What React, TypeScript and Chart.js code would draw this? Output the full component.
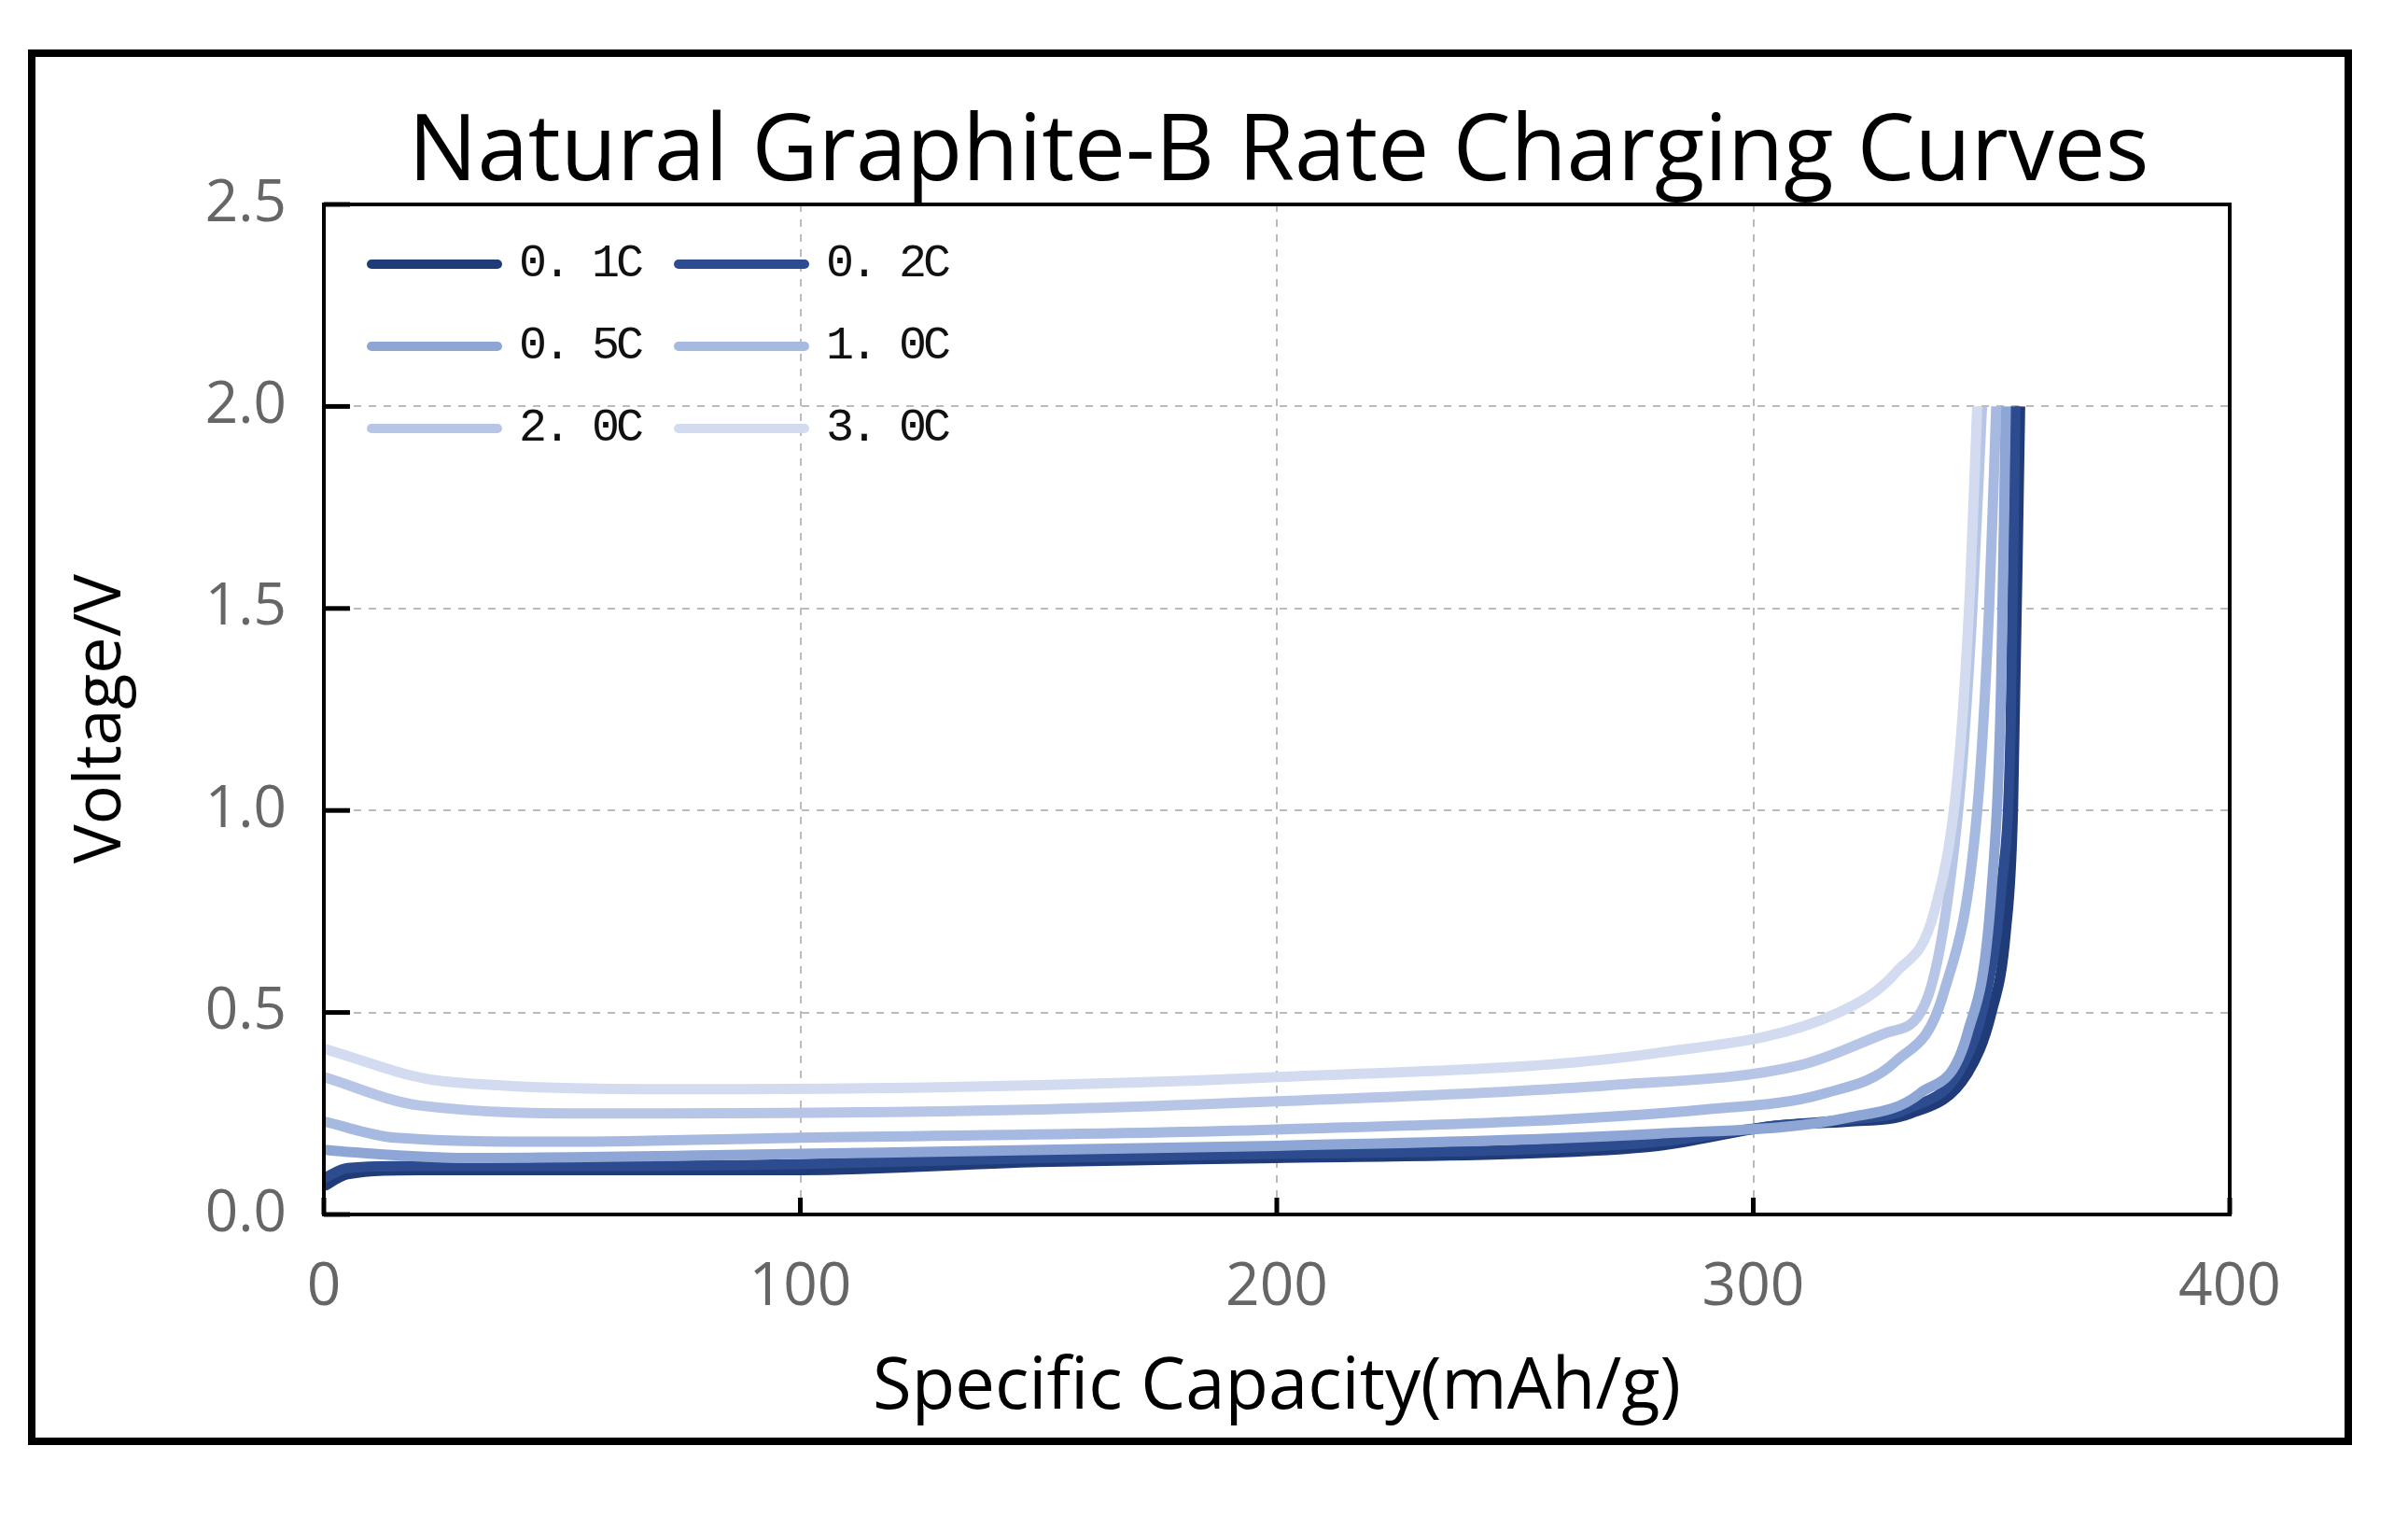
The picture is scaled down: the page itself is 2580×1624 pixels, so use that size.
import React, { useEffect, useRef } from "react";
import { Chart, registerables } from "chart.js";
Chart.register(...registerables);

const seriesNames = ["0.1C", "0.2C", "0.5C", "1.0C", "2.0C", "3.0C"];
const legendLabels = ["0. 1C", "0. 2C", "0. 5C", "1. 0C", "2. 0C", "3. 0C"];
const colors = ["#1f3b78", "#2d4c90", "#8ea6d6", "#a6b9e1", "#b7c5e6", "#d2dbef"];
const cap01 = [0, 5, 20, 60, 100, 150, 200, 250, 280, 305, 320, 333, 345, 350, 353, 354.5, 356];
const v01 = [0.07, 0.1, 0.11, 0.11, 0.11, 0.13, 0.14, 0.15, 0.17, 0.22, 0.23, 0.25, 0.35, 0.5, 0.7, 1.0, 2.0];
const cap02 = [0, 5, 20, 60, 100, 150, 200, 250, 280, 305, 320, 332, 344, 349, 352, 354, 355];
const v02 = [0.09, 0.115, 0.12, 0.12, 0.125, 0.14, 0.15, 0.16, 0.18, 0.22, 0.235, 0.26, 0.37, 0.55, 0.8, 1.2, 2.0];
const cap05 = [0, 5, 30, 100, 200, 280, 320, 335, 345, 350, 352, 353];
const v05 = [0.16, 0.155, 0.14, 0.15, 0.17, 0.2, 0.24, 0.3, 0.45, 0.8, 1.3, 2.0];
const cap10 = [0, 15, 50, 100, 200, 290, 315, 330, 340, 347, 349.5, 351];
const v10 = [0.23, 0.19, 0.18, 0.19, 0.21, 0.26, 0.3, 0.38, 0.55, 1.0, 1.5, 2.0];
const cap20 = [0, 20, 60, 150, 200, 270, 310, 328, 336, 343, 346, 348];
const v20 = [0.34, 0.27, 0.25, 0.26, 0.28, 0.32, 0.37, 0.45, 0.52, 1.0, 1.5, 2.0];
const cap30 = [0, 25, 80, 150, 200, 280, 318, 330, 338, 343, 345.5, 347];
const v30 = [0.41, 0.33, 0.31, 0.32, 0.34, 0.4, 0.5, 0.6, 0.75, 1.1, 1.55, 2.0];
const caps = [cap01, cap02, cap05, cap10, cap20, cap30];
const volts = [v01, v02, v05, v10, v20, v30];
const xTicks = [0, 100, 200, 300, 400];
const yTicks = [0, 0.5, 1.0, 1.5, 2.0, 2.5];

export default function App() {
  const ref = useRef<HTMLCanvasElement>(null);
  useEffect(() => {
    document.body.style.margin = "0";
    const boxPlugin = {
      id: "box",
      afterDraw(c: any) {
        const { ctx, chartArea: a } = c;
        ctx.save();
        ctx.strokeStyle = "#000";
        ctx.lineWidth = 4;
        ctx.strokeRect(a.left, a.top, a.right - a.left, a.bottom - a.top);
        ctx.lineWidth = 5;
        const xs = c.scales.x, ys = c.scales.y;
        xTicks.forEach((t) => { const x = xs.getPixelForValue(t); ctx.beginPath(); ctx.moveTo(x, a.bottom); ctx.lineTo(x, a.bottom - 18); ctx.stroke(); });
        yTicks.forEach((t) => { const y = ys.getPixelForValue(t); ctx.beginPath(); ctx.moveTo(a.left, y); ctx.lineTo(a.left + 28, y); ctx.stroke(); });
        ctx.restore();
      },
    };
    const chart = new Chart(ref.current!, {
      type: "line",
      data: {
        datasets: seriesNames.map((n, i) => ({
          label: n,
          data: caps[i].map((x, j) => ({ x, y: volts[i][j] })),
          borderColor: colors[i],
          borderWidth: 11,
          pointRadius: 0,
          cubicInterpolationMode: "monotone" as const,
          fill: false,
        })).reverse(),
      },
      options: {
        animation: false,
        responsive: false,
        layout: { padding: { left: 147, top: 219, right: 191, bottom: 223 } },
        plugins: { legend: { display: false }, tooltip: { enabled: false } },
        scales: {
          x: {
            type: "linear", min: 0, max: 400,
            afterBuildTicks: (s: any) => { s.ticks = xTicks.map((v) => ({ value: v })); },
            afterFit: (s: any) => { s.height = 100; },
            ticks: { font: { family: "Open Sans", size: 64 }, color: "#666", padding: 40 },
            grid: { color: "#bbb", lineWidth: 2, drawTicks: false },
            border: { display: false, dash: [8, 8] },
          },
          y: {
            type: "linear", min: 0, max: 2.5,
            afterBuildTicks: (s: any) => { s.ticks = yTicks.map((v) => ({ value: v })); },
            afterFit: (s: any) => { s.width = 200; },
            ticks: { font: { family: "Open Sans", size: 62 }, color: "#666", padding: 40, callback: (v: any) => Number(v).toFixed(1) },
            grid: { color: "#bbb", lineWidth: 2, drawTicks: false },
            border: { display: false, dash: [8, 8] },
          },
        },
      },
      plugins: [boxPlugin],
    } as any);
    return () => chart.destroy();
  }, []);
  const legendItem = (i: number, left: number, top: number) => (
    <div key={i} style={{ position: "absolute", left, top, display: "flex", alignItems: "center" }}>
      <div style={{ width: 145, height: 10, background: colors[i], borderRadius: 5 }} />
      <span style={{ marginLeft: 18, fontFamily: "Liberation Mono", fontSize: 50, letterSpacing: -4, color: "#111" }}>{legendLabels[i]}</span>
    </div>
  );
  return (
    <div style={{ position: "relative", width: 2580, height: 1624, background: "#fff", overflow: "hidden" }}>
      <div style={{ position: "absolute", left: 30, top: 53, width: 2490, height: 1495, border: "8px solid #000", boxSizing: "border-box" }} />
      <canvas ref={ref} width={2580} height={1624} style={{ position: "absolute", left: 0, top: 0 }} />
      <div style={{ position: "absolute", left: 0, width: 2740, top: 88, textAlign: "center", fontFamily: "Open Sans", fontSize: 98, color: "#000" }}>Natural Graphite-B Rate Charging Curves</div>
      <div style={{ position: "absolute", left: 347, width: 2042, top: 1428, textAlign: "center", fontFamily: "Open Sans", fontSize: 76, color: "#000" }}>Specific Capacity(mAh/g)</div>
      <div style={{ position: "absolute", left: 102, top: 770, transform: "translate(-50%,-50%) rotate(-90deg)", whiteSpace: "nowrap", fontFamily: "Open Sans", fontSize: 70, color: "#000" }}>Voltage/V</div>
      {legendItem(0, 393, 254)}
      {legendItem(1, 722, 254)}
      {legendItem(2, 393, 342)}
      {legendItem(3, 722, 342)}
      {legendItem(4, 393, 430)}
      {legendItem(5, 722, 430)}
    </div>
  );
}
